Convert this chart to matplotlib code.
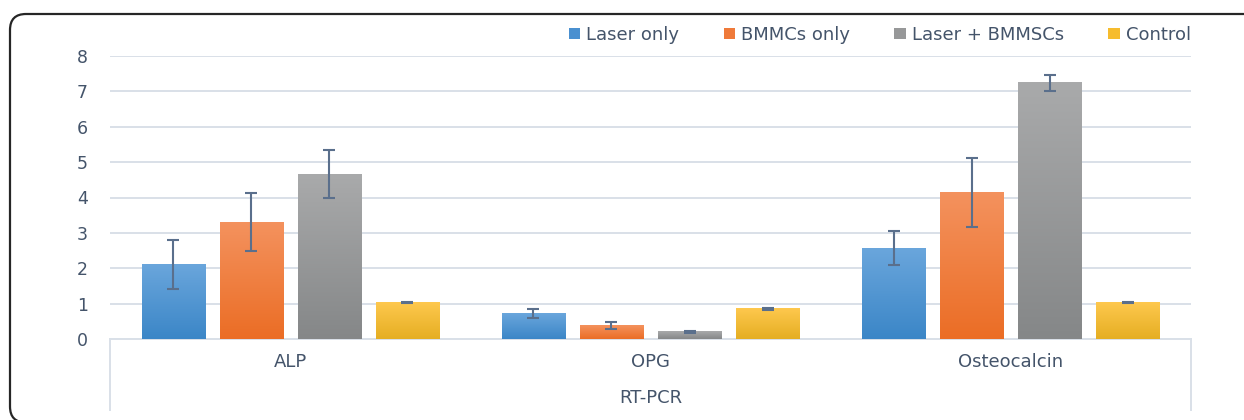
import numpy as np
import matplotlib
matplotlib.use("Agg")
import matplotlib.pyplot as plt
from matplotlib.patches import Patch, FancyBboxPatch
from matplotlib.colors import LinearSegmentedColormap

# Relative expression values (fold change) by marker and treatment group
categories = ["ALP", "OPG", "Osteocalcin"]
group_label = "RT-PCR"
series_names = ["Laser only", "BMMCs only", "Laser + BMMSCs", "Control"]
laser_only = [2.11, 0.72, 2.56]
bmmcs_only = [3.30, 0.37, 4.14]
laser_bmmscs = [4.66, 0.20, 7.24]
control = [1.03, 0.85, 1.04]
laser_only_err = [0.70, 0.12, 0.48]
bmmcs_only_err = [0.82, 0.10, 0.98]
laser_bmmscs_err = [0.68, 0.04, 0.22]
control_err = [0.02, 0.03, 0.02]
y_ticks = [0, 1, 2, 3, 4, 5, 6, 7, 8]

values = [laser_only, bmmcs_only, laser_bmmscs, control]
errors = [laser_only_err, bmmcs_only_err, laser_bmmscs_err, control_err]

# top / bottom shades of each bar's vertical gradient
shades = [("#6aa6dc", "#3b86c7"),
          ("#f4925e", "#eb6d25"),
          ("#a9aaab", "#858788"),
          ("#fec84e", "#e5ae22")]
legend_colors = ["#4a90d0", "#ef7a3a", "#979899", "#f6bc2e"]

text_color = "#44546a"
grid_color = "#d9e0e8"
err_color = "#5a6f8c"

plt.rcParams["font.family"] = ["DejaVu Sans"]

fig = plt.figure(figsize=(12.44, 4.20), dpi=100)
ax = fig.add_axes([110 / 1244, 81 / 420, 1081 / 1244, 283 / 420])

x = np.arange(len(categories))
slot = 0.2165
width = 0.175
offsets = (np.arange(len(series_names)) - 1.5) * slot

for i, (vals, errs) in enumerate(zip(values, errors)):
    bars = ax.bar(x + offsets[i], vals, width, color="none", zorder=3)
    cmap = LinearSegmentedColormap.from_list("g%d" % i, [shades[i][1], shades[i][0]])
    grad = np.linspace(0, 1, 256).reshape(-1, 1)
    for b in bars:
        x0, y0 = b.get_x(), b.get_y()
        w, h = b.get_width(), b.get_height()
        ax.imshow(grad, cmap=cmap, origin="lower", aspect="auto",
                  extent=[x0, x0 + w, y0, y0 + h], zorder=3, interpolation="bilinear")
    ax.errorbar(x + offsets[i], vals, yerr=errs, fmt="none", ecolor=err_color,
                elinewidth=1.5, capsize=4, capthick=1.5, zorder=4)

ax.set_xlim(-0.5, len(categories) - 0.5)
ax.set_ylim(0, 8)
ax.set_yticks(y_ticks)
ax.yaxis.grid(True, color=grid_color, linewidth=1.4, zorder=0)
ax.set_axisbelow(True)
for s in ["top", "right", "left"]:
    ax.spines[s].set_visible(False)
ax.spines["bottom"].set_color(grid_color)
ax.spines["bottom"].set_linewidth(1.4)
ax.tick_params(axis="y", length=0, pad=16, labelsize=12.5, labelcolor=text_color)
ax.set_xticks([])

# two-level category axis below the plot
depth = -(410 - 339) / 283
for xe in (0, 1):
    ax.plot([xe, xe], [0, depth], transform=ax.transAxes, color=grid_color,
            linewidth=1.4, clip_on=False)
for xi, name in zip(x, categories):
    ax.text(xi, -0.66, name, ha="center", va="center", fontsize=13, color=text_color)
ax.text(0.5, -0.2085, group_label, transform=ax.transAxes, ha="center", va="center",
        fontsize=13, color=text_color)

handles = [Patch(facecolor=c, edgecolor="none") for c in legend_colors]
fig.legend(handles, series_names, loc="center right", bbox_to_anchor=(1191 / 1244, 385 / 420),
           ncol=4, frameon=False, fontsize=13, labelcolor=text_color,
           handlelength=0.62, handleheight=0.62, handletextpad=0.35, columnspacing=2.45,
           borderaxespad=0, borderpad=0)

# rounded outer frame (runs past the right and bottom edges)
frame = FancyBboxPatch((0.10, -0.025), 13.5, 4.085, boxstyle="round,pad=0,rounding_size=0.16",
                       transform=fig.dpi_scale_trans, facecolor="none", edgecolor="#262626",
                       linewidth=1.6, clip_on=False)
fig.patches.append(frame)

fig.savefig("out.png", dpi=100)
